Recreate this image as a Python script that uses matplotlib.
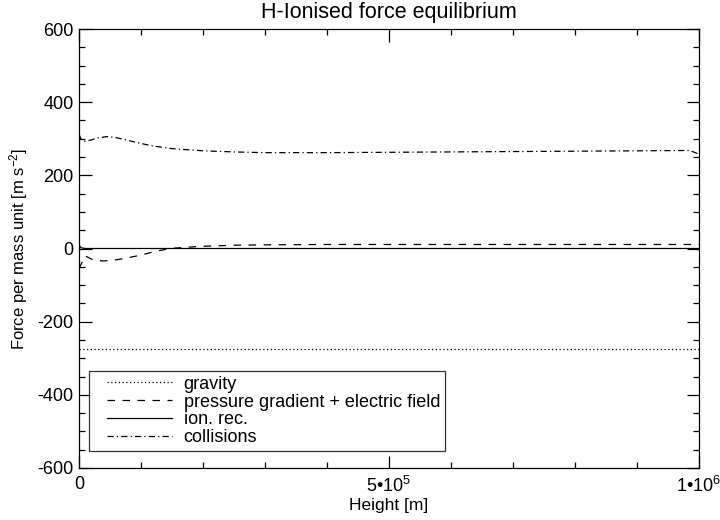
import matplotlib
matplotlib.use("Agg")
import numpy as np
import matplotlib.pyplot as plt
from matplotlib.ticker import MultipleLocator, FixedLocator
from matplotlib.legend_handler import HandlerLine2D

plt.rcParams['font.family'] = ['Liberation Sans', 'DejaVu Sans']
plt.rcParams['mathtext.fontset'] = 'custom'
plt.rcParams['mathtext.rm'] = 'Liberation Sans'
plt.rcParams['mathtext.it'] = 'Liberation Sans'
plt.rcParams['axes.unicode_minus'] = False

title = "H-Ionised force equilibrium"
xlabel = "Height [m]"
ylabel = r"Force per mass unit [m s$^{-2}$]"

# gravity
grav_h = [0, 1e6]
grav_v = [-274, -274]

# pressure gradient + electric field
pres_h = [0, 1e4, 2e4, 3e4, 4e4, 6e4, 8e4, 1e5, 1.2e5, 1.47e5, 1.7e5, 2e5, 2.5e5, 3e5, 4e5, 6e5, 8e5, 1e6]
pres_v = [-55, -20, -29, -33, -34, -31, -25, -18, -9, 0, 3, 6, 9, 10, 11, 11, 11, 11]

# ion. rec.
ion_h = [0, 3e3, 1e4, 1e6]
ion_v = [10, 2, 0, 0]

# collisions
col_h = [0, 3e3, 8e3, 2e4, 3e4, 4.5e4, 6e4, 8e4, 1e5, 1.2e5, 1.5e5, 2e5, 2.5e5, 3e5, 4e5, 5e5, 6e5, 7e5, 8e5, 9e5, 9.85e5, 1e6]
col_v = [312, 300, 292, 297, 302, 306, 303, 295, 287, 280, 273, 267, 264, 262, 262, 263, 264, 265, 266, 267, 268, 258]

labels = ["gravity", "pressure gradient + electric field", "ion. rec.", "collisions"]

xticks = [0, 5e5, 1e6]
xticklabels = ["0", "5\u2022" + r"10$^{5}$", "1\u2022" + r"10$^{6}$"]
yticks = [-600, -400, -200, 0, 200, 400, 600]


class ShiftedLine(HandlerLine2D):
    """Legend line that leaves some empty room on its left."""
    def __init__(self, lead=9.5, **kw):
        super().__init__(**kw)
        self.lead = lead

    def get_xdata(self, legend, xdescent, ydescent, width, height, fontsize):
        x0 = -xdescent + self.lead
        x1 = -xdescent + width
        xdata = np.array([x0, x1])
        return xdata, xdata


fig = plt.figure(figsize=(7.2, 5.2), dpi=100)
ax = fig.add_axes([79/720, 1 - 468/520, 620/720, 439/520])

lw = 0.9
ax.plot(grav_h, grav_v, color='black', lw=lw, linestyle=(0, (1, 2)), label=labels[0])
ax.plot(pres_h, pres_v, color='black', lw=lw, linestyle=(0, (6, 6)), label=labels[1])
ax.plot(ion_h, ion_v, color='black', lw=lw, linestyle='-', label=labels[2])
ax.plot(col_h, col_v, color='black', lw=lw, linestyle=(0, (5, 2.5, 1, 2.5)), label=labels[3])

ax.set_xlim(0, 1e6)
ax.set_ylim(-600, 600)
ax.xaxis.set_major_locator(FixedLocator(xticks))
ax.set_xticklabels(xticklabels)
ax.xaxis.set_minor_locator(MultipleLocator(1e5))
ax.yaxis.set_major_locator(FixedLocator(yticks))
ax.yaxis.set_minor_locator(MultipleLocator(50))
ax.tick_params(which='both', direction='in', top=True, right=True, labelsize=13, width=0.9, pad=4)
ax.tick_params(axis='x', which='major', pad=6)
ax.tick_params(which='major', length=9)
ax.tick_params(which='minor', length=4.5)
for s in ax.spines.values():
    s.set_linewidth(0.9)

ax.set_title(title, fontsize=15.5, pad=8)
ax.set_xlabel(xlabel, fontsize=12.5, labelpad=1)
ax.set_ylabel(ylabel, fontsize=12, labelpad=5)

handles, _ = ax.get_legend_handles_labels()
leg = ax.legend(handles, labels, loc='lower left', bbox_to_anchor=(0.016, 0.039), fontsize=13,
                frameon=True, fancybox=False, edgecolor='black', handlelength=4.35,
                labelspacing=0.05, borderpad=0.25, handletextpad=0.65, borderaxespad=0,
                handler_map={h: ShiftedLine() for h in handles})
leg.get_frame().set_linewidth(0.9)

fig.savefig("out.png", dpi=100)
